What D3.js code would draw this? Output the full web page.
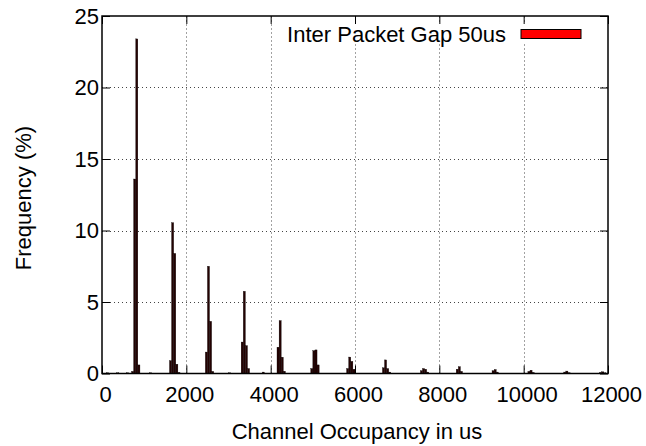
<!DOCTYPE html>
<html><head><meta charset="utf-8">
<script src="https://cdn.jsdelivr.net/npm/d3@7"></script>
<style>body{margin:0;background:#fff}svg{display:block}text{font-family:"Liberation Sans",Arial,sans-serif;fill:#000}</style>
</head><body><svg id="c" width="646" height="446"></svg>
<script>
// Histogram bins (centre of 50us bin, frequency %)
const binCenters = [125,375,600,725,775,825,875,1150,1625,1675,1725,1775,1825,2475,2525,2575,2625,3025,3325,3375,3425,3475,3825,4175,4225,4275,4325,4975,5025,5075,5125,5825,5875,5925,5975,6675,6725,6775,6825,7575,7625,7675,7725,8425,8475,8525,9275,9325,9375,10125,10175,10225,10975,11025,11075,11825,11875,11925];
const freqs      = [0.05,0.05,0.05,0.15,13.6,23.4,0.6,0.05,0.9,10.55,8.4,0.65,0.08,1.5,7.5,3.65,0.15,0.05,2.2,5.75,1.95,0.35,0.1,1.84,3.7,1.14,0.16,0.35,1.6,1.65,0.6,0.35,1.15,0.85,0.3,0.4,0.95,0.35,0.1,0.2,0.35,0.3,0.1,0.3,0.48,0.15,0.2,0.28,0.1,0.15,0.23,0.08,0.1,0.17,0.06,0.08,0.12,0.05];
const binWidth = 50;
const xTicks = [0,2000,4000,6000,8000,10000,12000];
const yTicks = [0,5,10,15,20,25];
const seriesName = "Inter Packet Gap 50us";
const xTitle = "Channel Occupancy in us";
const yTitle = "Frequency (%)";

const svg = d3.select("#c");
const L=102, R=608, T=16, B=373.5;
const x = d3.scaleLinear().domain([0,12000]).range([L,R]);
const y = d3.scaleLinear().domain([0,25]).range([B,T]);
const FS = 22;

// grid
const grid = svg.append("g").attr("stroke","#444").attr("stroke-width",1).attr("stroke-dasharray","1,3");
xTicks.slice(1,-1).forEach(t=>grid.append("line").attr("x1",Math.round(x(t))+0.5).attr("x2",Math.round(x(t))+0.5).attr("y1",B).attr("y2",T));
yTicks.slice(1,-1).forEach(t=>grid.append("line").attr("y1",Math.round(y(t))+0.5).attr("y2",Math.round(y(t))+0.5).attr("x1",L).attr("x2",R));

// legend background hides grid
svg.append("rect").attr("x",278).attr("y",24).attr("width",314).attr("height",20).attr("fill","#fff");

// bars
const data = binCenters.map((c,i)=>({c, v:freqs[i]}));
svg.append("g").selectAll("rect").data(data).join("rect")
  .attr("x",d=>x(d.c-binWidth/2))
  .attr("width",d=>x(d.c+binWidth/2)-x(d.c-binWidth/2))
  .attr("y",d=>y(d.v))
  .attr("height",d=>y(0)-y(d.v))
  .attr("fill","#240202").attr("stroke","#000").attr("stroke-width",0.3);

// axes (ticks inward, mirrored)
const tl = 8;
const ax = svg.append("g");
ax.append("g").attr("transform",`translate(0,${B})`)
  .call(d3.axisBottom(x).tickValues(xTicks).tickSize(-tl).tickPadding(13).tickFormat(d3.format("d")))
  .call(g=>g.select(".domain").remove())
  .call(g=>g.selectAll("text").attr("dx",3));
ax.append("g").attr("transform",`translate(0,${T})`)
  .call(d3.axisTop(x).tickValues(xTicks).tickSize(-tl).tickFormat(""))
  .call(g=>g.select(".domain").remove());
ax.append("g").attr("transform",`translate(${L},0)`)
  .call(d3.axisLeft(y).tickValues(yTicks).tickSize(-tl).tickPadding(3))
  .call(g=>g.select(".domain").remove());
ax.append("g").attr("transform",`translate(${R},0)`)
  .call(d3.axisRight(y).tickValues(yTicks).tickSize(-tl).tickFormat(""))
  .call(g=>g.select(".domain").remove());
ax.selectAll("text").style("font-size",FS+"px").style("font-family","Liberation Sans, Arial, sans-serif").attr("fill","#000");
ax.selectAll(".tick line").attr("stroke","#000");

svg.append("rect").attr("x",L).attr("y",T).attr("width",R-L).attr("height",B-T)
  .attr("fill","none").attr("stroke","#000").attr("stroke-width",1.5);

// legend
svg.append("text").attr("x",506).attr("y",42).attr("text-anchor","end").style("font-size",FS+"px").text(seriesName);
svg.append("rect").attr("x",521).attr("y",29.5).attr("width",60).attr("height",9).attr("fill","#ff0000").attr("stroke","#000").attr("stroke-width",1);

// titles
svg.append("text").attr("x",357).attr("y",439).attr("text-anchor","middle").style("font-size",FS+"px").text(xTitle);
svg.append("text").attr("transform","translate(31,198) rotate(-90)").attr("text-anchor","middle").style("font-size",FS+"px").text(yTitle);
</script></body></html>
